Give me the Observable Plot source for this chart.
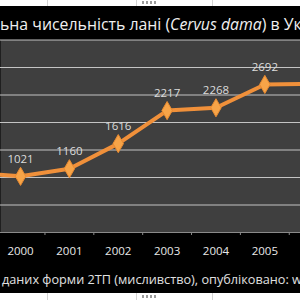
<!DOCTYPE html>
<html><head><meta charset="utf-8">
<script src="https://cdn.jsdelivr.net/npm/d3@7"></script>
<script src="https://cdn.jsdelivr.net/npm/@observablehq/plot@0.6"></script>
<style>
html,body{margin:0;padding:0;background:#000;}
#wrap{position:relative;width:300px;height:300px;overflow:hidden;background:#000;font-family:"Open Sans",sans-serif;}
#chart{position:absolute;left:0;top:0;}
.strip{position:absolute;left:0;width:300px;height:6px;background:#fff;}
.sep{position:absolute;top:0;width:1px;height:6px;background:#d4d4d4;}
.grip{position:absolute;left:142px;top:1px;width:16px;height:3px;
  background:repeating-linear-gradient(90deg,#9a9a9a 0 2px,transparent 2px 4px);}
#title{position:absolute;top:6px;height:33px;line-height:36px;left:0;white-space:nowrap;color:#f0f0f0;}
#caption{position:absolute;top:266px;height:26px;line-height:26px;left:2px;white-space:nowrap;color:#e0e0e0;}
</style></head>
<body>
<div id="wrap">
  <div id="chart"></div>
  <div id="title"><span id="tpre">Загал</span><span id="tvis">ьна чисельність лані (<i>Cervus dama</i>) в Ук</span><span>раїні</span></div>
  <div id="caption"><span id="cvis">даних форми 2ТП (мисливство), опубліковано: w</span></div>
  <div class="strip" style="top:0"><div class="sep" style="left:47px"></div><div class="sep" style="left:136px"></div><div class="sep" style="left:212px"></div><div class="grip"></div></div>
  <div class="strip" style="top:293px;height:7px"><div class="sep" style="left:47px;height:7px"></div><div class="sep" style="left:136px;height:7px"></div><div class="sep" style="left:212px;height:7px"></div><div class="grip" style="top:2px"></div></div>
</div>
<script>
const years = [1999, 2000, 2001, 2002, 2003, 2004, 2005, 2006];
const counts = [1095, 1021, 1160, 1616, 2217, 2268, 2692, 2700];
const yearLabels = [2000, 2001, 2002, 2003, 2004, 2005];
const yTicks = [500, 1000, 1500, 2000, 2500, 3000, 3500];

const data = years.map((y, i) => ({year: y, count: counts[i]}));
const between = yearLabels.map(y => y + 0.5);
const labelled = data.filter(d => yearLabels.includes(d.year));

const chart = Plot.plot({
  width: 300, height: 300,
  marginTop: 39.5, marginBottom: 68, marginLeft: 0, marginRight: 0,
  style: {background: "#000", color: "#e6e6e6", fontFamily: "'Open Sans', sans-serif", fontSize: "11.5px"},
  x: {type: "linear", domain: [1999.59, 2005.73], label: null},
  y: {domain: [0, 3500], axis: null, label: null},
  marks: [
    Plot.frame({fill: "#3f3f3f", stroke: null}),
    Plot.gridY(yTicks, {stroke: "#c4c4c4", strokeOpacity: 1, strokeWidth: 1}),
    Plot.ruleY([0], {stroke: "#8a8a8a"}),
    Plot.axisX(between, {tickSize: 3, tickFormat: () => "", stroke: "#8a8a8a", label: null}),
    Plot.axisX(yearLabels, {tickSize: 0, tickPadding: 14, tickFormat: d => String(d), fill: "#e8e8e8", fontSize: 11.5, label: null}),
    Plot.line(data, {x: "year", y: "count", stroke: "#f0903a", strokeWidth: 4, clip: true}),
    Plot.dot(data, {x: "year", y: "count", symbol: "diamond", r: 5.5, fill: "#f7a448", stroke: "#e88a30", strokeWidth: 1, clip: true}),
    Plot.text(labelled, {x: "year", y: "count", text: d => String(d.count), dy: -17, fill: "#dcdcdc", fontSize: 11.5})
  ]
});
document.getElementById("chart").appendChild(chart);

function fit(el, target) {
  el.parentNode.style.fontSize = "100px";
  const w = el.getBoundingClientRect().width;
  const fs = 100 * target / w;
  el.parentNode.style.fontSize = fs + "px";
  return fs;
}
fit(document.getElementById("tvis"), 302);
const pre = document.getElementById("tpre");
document.getElementById("title").style.left = (-pre.getBoundingClientRect().width) + "px";
fit(document.getElementById("cvis"), 300);
</script>
</body></html>
